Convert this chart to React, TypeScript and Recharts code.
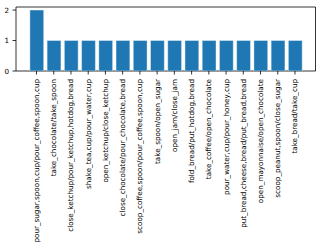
import React from 'react';
import { BarChart, Bar, XAxis, YAxis, ReferenceArea } from 'recharts';

const categories = [
  'pour_sugar,spoon,cup/pour_coffee,spoon,cup',
  'take_chocolate/take_spoon',
  'close_ketchup/pour_ketchup,hotdog,bread',
  'shake_tea,cup/pour_water,cup',
  'open_ketchup/close_ketchup',
  'close_chocolate/pour_chocolate,bread',
  'scoop_coffee,spoon/pour_coffee,spoon,cup',
  'take_spoon/open_sugar',
  'open_jam/close_jam',
  'fold_bread/put_hotdog,bread',
  'take_coffee/open_chocolate',
  'pour_water,cup/pour_honey,cup',
  'put_bread,cheese,bread/put_bread,bread',
  'open_mayonnaise/open_chocolate',
  'scoop_peanut,spoon/close_sugar',
  'take_bread/take_cup',
];
const counts = [2, 1, 1, 1, 1, 1, 1, 1, 1, 1, 1, 1, 1, 1, 1, 1];
const yTicks = [0, 1, 2];
const xTicks = categories.map((_, i) => i);

const data = categories.map((name, i) => ({ idx: i, name, value: counts[i] }));

const X_DOMAIN: [number, number] = [-1.19, 16.19];
const Y_DOMAIN: [number, number] = [0, 2.1];
const FONT = 'DejaVu Sans';

const XTick = (props: any) => {
  const { x, y, payload } = props;
  return (
    <g transform={`translate(${x},${y + 2.5})`}>
      <text
        transform="rotate(-90)"
        textAnchor="end"
        dominantBaseline="central"
        fontFamily={FONT}
        fontSize={7.2}
        fill="#000"
      >
        {categories[payload.value]}
      </text>
    </g>
  );
};

const YTick = (props: any) => {
  const { x, y, payload } = props;
  return (
    <text x={x - 1.5} y={y} textAnchor="end" dominantBaseline="central" fontFamily={FONT} fontSize={7.2} fill="#000">
      {payload.value}
    </text>
  );
};

export default function App() {
  return (
    <div style={{ position: 'absolute', left: 0, top: 0, width: 323, height: 250, background: '#fff' }}>
      <BarChart
        width={323}
        height={250}
        data={data}
        margin={{ top: 7, right: 7.5, left: 0, bottom: 0 }}
      >
        <XAxis
          dataKey="idx"
          type="number"
          domain={X_DOMAIN}
          ticks={xTicks}
          interval={0}
          allowDataOverflow
          height={179}
          tick={<XTick />}
          tickSize={3.5}
          axisLine={false}
          tickLine={{ stroke: '#000', strokeWidth: 0.8 }}
        />
        <YAxis
          domain={Y_DOMAIN}
          ticks={yTicks}
          allowDataOverflow
          width={16}
          tick={<YTick />}
          tickSize={3.5}
          axisLine={false}
          tickLine={{ stroke: '#000', strokeWidth: 0.8 }}
        />
        <Bar dataKey="value" fill="#1f77b4" stroke="#ffffff" strokeWidth={0.4} barSize={13.8} isAnimationActive={false} />
        <ReferenceArea
          x1={X_DOMAIN[0]}
          x2={X_DOMAIN[1]}
          y1={Y_DOMAIN[0]}
          y2={Y_DOMAIN[1]}
          fill="none"
          fillOpacity={0}
          stroke="#000"
          strokeWidth={0.8}
          strokeOpacity={1}
        />
      </BarChart>
    </div>
  );
}
